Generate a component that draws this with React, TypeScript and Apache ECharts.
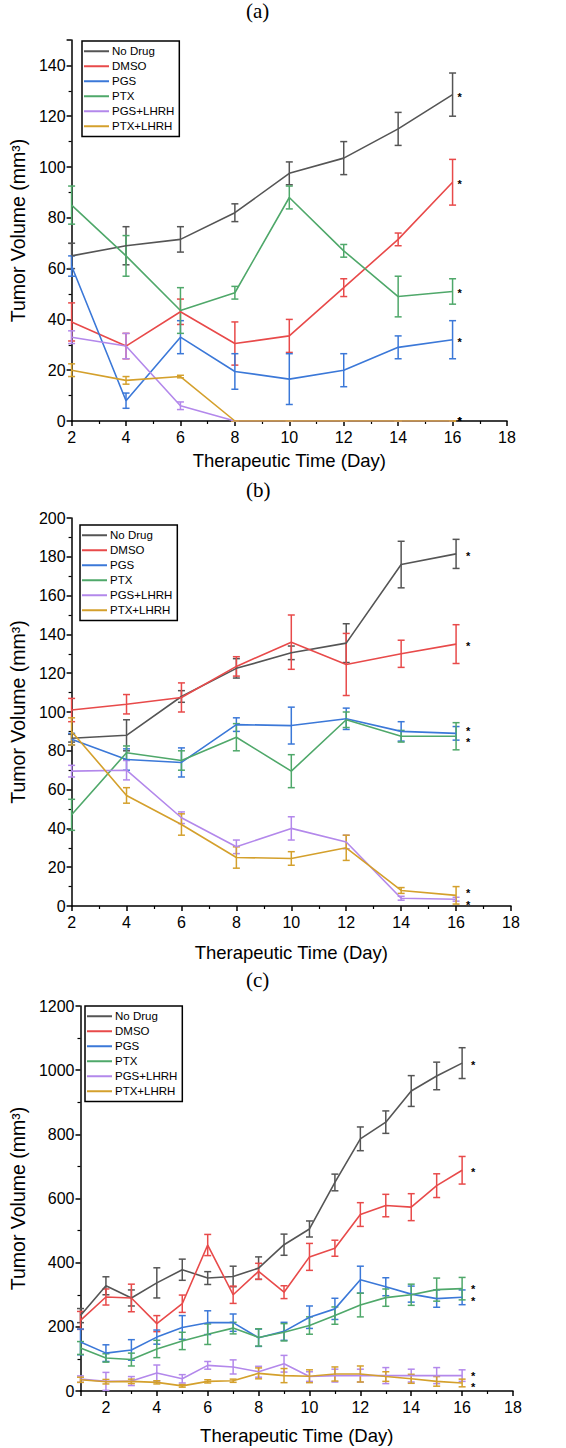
import React, { useEffect, useRef } from "react";
import * as echarts from "echarts";

const names = ["No Drug", "DMSO", "PGS", "PTX", "PGS+LHRH", "PTX+LHRH"];
const colors = ["#555555", "#e84a4a", "#3b78d8", "#4fa86a", "#b388eb", "#d4a02c"];

const daysAB = [2, 4, 6, 8, 10, 12, 14, 16];
const daysC = [1, 2, 3, 4, 5, 6, 7, 8, 9, 10, 11, 12, 13, 14, 15, 16];

// Panel (a)
const aNoDrug = [65, 69, 71.5, 82, 97.5, 103.5, 115, 128.5];
const aNoDrugErr = [5, 7.5, 5, 3.5, 4.5, 6.5, 6.5, 8.5];
const aDMSO = [39, 29.5, 43, 30.5, 33.5, 52.5, 71.5, 94];
const aDMSOErr = [7.5, 5, 5, 8.5, 6.5, 3.5, 2.5, 9];
const aPGS = [61, 8, 33, 19.5, 16.5, 20, 29, 32];
const aPGSErr = [4, 3, 6.5, 7, 10, 6.5, 4.5, 7.5];
const aPTX = [85, 65, 43.5, 50.5, 88, 67, 49, 51];
const aPTXErr = [7.5, 8, 9, 2.5, 4.5, 2.5, 8, 5];
const aPGSL = [33, 29.5, 6, 0, 0, 0, 0, 0];
const aPGSLErr = [2.5, 5, 1.5, 0, 0, 0, 0, 0];
const aPTXL = [20, 16, 17.5, 0, 0, 0, 0, 0];
const aPTXLErr = [2.5, 1.5, 0.5, 0, 0, 0, 0, 0];

// Panel (b)
const bNoDrug = [86.5, 88, 108, 122.5, 130.5, 135.5, 176, 181.5];
const bNoDrugErr = [2, 8, 3, 5, 3.5, 10, 12, 7.5];
const bDMSO = [101, 104, 107.5, 123.5, 136, 124.5, 130, 135];
const bDMSOErr = [6, 5, 7.5, 5, 14, 16, 7, 10];
const bPGS = [86, 75.5, 74, 93.5, 93, 96.5, 90, 89];
const bPGSErr = [3, 5.5, 7.5, 3.5, 9.5, 5.5, 5, 3.5];
const bPTX = [47, 79, 75, 87, 69.5, 96, 87.5, 87.5];
const bPTXErr = [8, 3.5, 5, 7, 8.5, 4, 3, 7];
const bPGSL = [69.5, 70, 45.5, 30.5, 40, 33, 4, 3.5];
const bPGSLErr = [3, 5, 3, 3.5, 6, 3.5, 1, 1];
const bPTXL = [90, 57, 42, 25, 24.5, 30, 8, 5.5];
const bPTXLErr = [7, 4, 5.5, 5.5, 3.5, 6.5, 1.5, 4.5];

// Panel (c)
const cNoDrug = [235, 328, 290, 337, 378, 352, 357, 383, 456, 505, 650, 786, 838, 935, 982, 1022];
const cNoDrugErr = [22, 28, 25, 47, 33, 20, 32, 35, 33, 25, 26, 37, 35, 48, 43, 48];
const cDMSO = [220, 293, 290, 210, 272, 455, 300, 373, 308, 418, 445, 550, 578, 573, 640, 688];
const cDMSOErr = [28, 25, 43, 25, 27, 33, 27, 25, 20, 42, 25, 37, 35, 42, 37, 43];
const cPGS = [153, 118, 128, 168, 198, 213, 213, 166, 186, 230, 256, 347, 325, 302, 288, 292];
const cPGSErr = [40, 26, 32, 22, 37, 37, 27, 27, 28, 35, 33, 42, 28, 25, 27, 23];
const cPTX = [134, 103, 98, 131, 156, 177, 196, 167, 183, 204, 235, 268, 291, 300, 316, 319];
const cPTXErr = [20, 13, 20, 27, 27, 32, 18, 27, 27, 27, 27, 37, 27, 33, 36, 35];
const cPGSL = [37, 30, 31, 56, 38, 80, 75, 60, 85, 45, 48, 48, 48, 48, 48, 48];
const cPGSLErr = [10, 28, 14, 25, 13, 12, 22, 17, 26, 15, 20, 20, 25, 20, 25, 18];
const cPTXL = [35, 29, 30, 27, 16, 30, 32, 55, 48, 46, 53, 53, 45, 38, 30, 25];
const cPTXLErr = [8, 7, 7, 5, 4, 5, 5, 17, 22, 20, 22, 25, 15, 14, 15, 12];

const panelTitles = ["(a)", "(b)", "(c)"];
const xTitle = "Therapeutic Time (Day)";
const yTitle = "Tumor Volume (mm³)";

const SANS = "'Liberation Sans', Arial, Helvetica, sans-serif";
const SERIF = "'Liberation Serif', 'Times New Roman', serif";

export default function App() {
  const ref = useRef<HTMLDivElement>(null);

  useEffect(() => {
    if (!ref.current) return;
    const chart = echarts.init(ref.current, null, { renderer: "svg" });

    const panels = [
      {
        xs: daysAB,
        vals: [aNoDrug, aDMSO, aPGS, aPTX, aPGSL, aPTXL],
        errs: [aNoDrugErr, aDMSOErr, aPGSErr, aPTXErr, aPGSLErr, aPTXLErr],
        grid: { left: 68, top: 40, width: 439, height: 381 },
        xMin: 2, xMax: 18, yMax: 150, yInterval: 20,
        yNameGap: 28, xNameGap: 30,
        legend: { left: 82, top: 41 },
        starOffsets: [[0, 2], [0, 2], [0, 2], [0, 2], [0, 0], [0, 0]],
        starDist: 5,
      },
      {
        xs: daysAB,
        vals: [bNoDrug, bDMSO, bPGS, bPTX, bPGSL, bPTXL],
        errs: [bNoDrugErr, bDMSOErr, bPGSErr, bPTXErr, bPGSLErr, bPTXLErr],
        grid: { left: 66, top: 518, width: 445, height: 388 },
        xMin: 2, xMax: 18, yMax: 200, yInterval: 20,
        yNameGap: 38, xNameGap: 37,
        legend: { left: 80, top: 525 },
        starOffsets: [[0, 2], [0, 2], [0, -2], [0, 6], [0, 6], [0, -2]],
        starDist: 10,
      },
      {
        xs: daysC,
        vals: [cNoDrug, cDMSO, cPGS, cPTX, cPGSL, cPTXL],
        errs: [cNoDrugErr, cDMSOErr, cPGSErr, cPTXErr, cPGSLErr, cPTXLErr],
        grid: { left: 72, top: 1006, width: 441, height: 385 },
        xMin: 1, xMax: 18, yMax: 1200, yInterval: 200,
        yNameGap: 44, xNameGap: 35,
        legend: { left: 85, top: 1006 },
        starOffsets: [[0, 2], [0, 2], [0, 4], [0, 0], [0, 0], [0, 4]],
        starDist: 9,
      },
    ];

    const grids: any[] = [];
    const xAxes: any[] = [];
    const yAxes: any[] = [];
    const series: any[] = [];
    const legends: any[] = [];
    const graphics: any[] = [];

    const axisCommon = {
      axisLine: { show: true, lineStyle: { color: "#000", width: 1.5 } },
      axisTick: { show: true, inside: false, length: 5, lineStyle: { color: "#000", width: 1.5 } },
      minorTick: { show: true, splitNumber: 2, length: 3, lineStyle: { color: "#000", width: 1.2 } },
      splitLine: { show: false },
      minorSplitLine: { show: false },
    };

    const titleCenters = [12, 491, 981];

    panels.forEach((p, pi) => {
      grids.push({ ...p.grid, containLabel: false });
      const xAxis: any = {
        type: "value",
        gridIndex: pi,
        min: p.xMin,
        max: p.xMax,
        ...axisCommon,
        axisLabel: {
          color: "#000",
          fontSize: 16,
          fontFamily: SANS,
          margin: 8,
          showMinLabel: p.xMin === 2,
          formatter: (v: number) => String(v),
        },
        name: xTitle,
        nameLocation: "middle",
        nameGap: p.xNameGap,
        nameTextStyle: { color: "#000", fontSize: 18.5, fontFamily: SANS },
      };
      if (p.xMin === 2) xAxis.interval = 2;
      else xAxis.splitNumber = 8;
      xAxes.push(xAxis);
      yAxes.push({
        type: "value",
        gridIndex: pi,
        min: 0,
        max: p.yMax,
        interval: p.yInterval,
        ...axisCommon,
        axisLabel: {
          color: "#000",
          fontSize: 16,
          fontFamily: SANS,
          margin: 6,
          showMaxLabel: p.yMax % p.yInterval === 0,
          formatter: (v: number) => String(v),
        },
        name: yTitle,
        nameLocation: "middle",
        nameGap: p.yNameGap,
        nameTextStyle: { color: "#000", fontSize: 19.5, fontFamily: SANS },
      });

      p.vals.forEach((vals, si) => {
        const color = colors[si];
        series.push({
          type: "custom",
          name: "err-" + pi + "-" + si,
          xAxisIndex: pi,
          yAxisIndex: pi,
          data: p.xs.map((x, i) => [x, vals[i], p.errs[si][i]]),
          encode: { x: 0, y: 1 },
          silent: true,
          z: 2,
          renderItem: (params: any, api: any) => {
            const x = api.value(0);
            const y = api.value(1);
            const e = api.value(2);
            const top = api.coord([x, y + e]);
            const bot = api.coord([x, y - e]);
            const cw = 3.5;
            const st = { stroke: color, lineWidth: 1.5 };
            return {
              type: "group",
              children: [
                { type: "line", shape: { x1: top[0], y1: top[1], x2: bot[0], y2: bot[1] }, style: st },
                { type: "line", shape: { x1: top[0] - cw, y1: top[1], x2: top[0] + cw, y2: top[1] }, style: st },
                { type: "line", shape: { x1: bot[0] - cw, y1: bot[1], x2: bot[0] + cw, y2: bot[1] }, style: st },
              ],
            };
          },
        });
        series.push({
          type: "line",
          name: names[si],
          xAxisIndex: pi,
          yAxisIndex: pi,
          data: p.xs.map((x, i) => [x, vals[i]]),
          showSymbol: false,
          symbol: "none",
          color,
          lineStyle: { color, width: 1.6 },
          z: 3,
          endLabel: {
            show: true,
            formatter: "*",
            color: "#000",
            fontSize: 11,
            lineHeight: 8,
            fontWeight: "bold",
            fontFamily: SANS,
            distance: p.starDist,
            offset: p.starOffsets[si],
          },
        });
      });

      legends.push({
        data: names,
        orient: "vertical",
        left: p.legend.left,
        top: p.legend.top,
        icon: "rect",
        itemWidth: 25,
        itemHeight: 2,
        itemGap: 2.5,
        padding: [4, 5, 4, 2],
        borderColor: "#000",
        borderWidth: 1.5,
        backgroundColor: "#fff",
        textStyle: { color: "#000", fontSize: 11.5, fontFamily: SANS, lineHeight: 12.5, padding: [0, 0, 0, -2] },
        selectedMode: false,
      });

      graphics.push({
        type: "text",
        left: 246,
        top: titleCenters[pi] - 12,
        style: { text: panelTitles[pi], fill: "#000", font: "21px " + SERIF },
      });
    });

    chart.setOption({
      animation: false,
      backgroundColor: "#fff",
      grid: grids,
      xAxis: xAxes,
      yAxis: yAxes,
      legend: legends,
      series,
      graphic: graphics,
    });

    return () => chart.dispose();
  }, []);

  return (
    <div
      ref={ref}
      style={{ position: "absolute", left: 0, top: 0, width: 566, height: 1448, background: "#fff" }}
    />
  );
}
